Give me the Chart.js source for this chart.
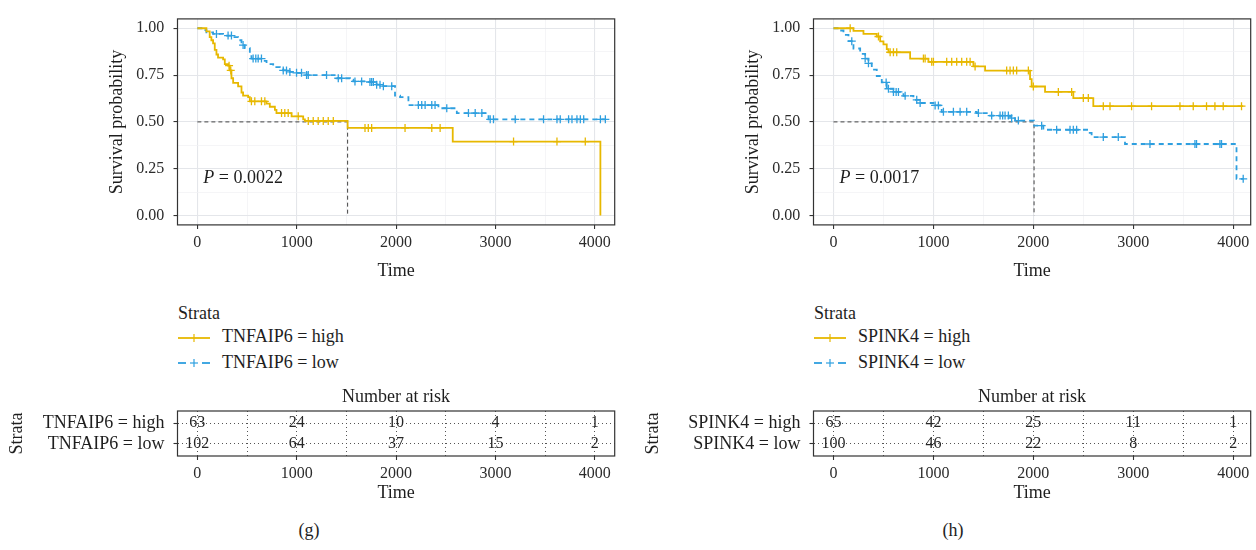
<!DOCTYPE html>
<html>
<head>
<meta charset="utf-8">
<script src="https://cdn.jsdelivr.net/npm/chart.js@4.4.1/dist/chart.umd.min.js"></script>
<style>
  body { margin: 0; background: #fff; width: 1256px; height: 550px; position: relative; overflow: hidden;
         font-family: "Liberation Serif", "Times New Roman", serif; color: #1e1e1e; }
  canvas { position: absolute; }
  .txt { position: absolute; white-space: nowrap; font-size: 18px; line-height: 20px; }
  .cap { position: absolute; width: 60px; text-align: center; font-size: 18px; line-height: 20px; }
  svg { position: absolute; }
</style>
</head>
<body>
<canvas id="kmG" width="628" height="290" style="left:0;top:0"></canvas>
<canvas id="kmH" width="620" height="290" style="left:636px;top:0"></canvas>
<canvas id="riskG" width="628" height="130" style="left:0;top:380px"></canvas>
<canvas id="riskH" width="620" height="130" style="left:636px;top:380px"></canvas>

<!-- legends -->
<div class="txt" style="left:178px;top:303px">Strata</div>
<svg style="left:178px;top:332px" width="32" height="12">
  <line x1="0" y1="6" x2="32" y2="6" stroke="#E7B800" stroke-width="1.8"/>
  <line x1="16" y1="2" x2="16" y2="10" stroke="#E7B800" stroke-width="1.2"/>
</svg>
<div class="txt" style="left:222px;top:326px">TNFAIP6 = high</div>
<svg style="left:178px;top:357px" width="32" height="12">
  <line x1="0" y1="6" x2="8" y2="6" stroke="#2E9FDF" stroke-width="1.8"/>
  <line x1="12" y1="6" x2="20" y2="6" stroke="#2E9FDF" stroke-width="1.2"/>
  <line x1="16" y1="2" x2="16" y2="10" stroke="#2E9FDF" stroke-width="1.2"/>
  <line x1="24" y1="6" x2="32" y2="6" stroke="#2E9FDF" stroke-width="1.8"/>
</svg>
<div class="txt" style="left:222px;top:352px">TNFAIP6 = low</div>

<div class="txt" style="left:814px;top:303px">Strata</div>
<svg style="left:814px;top:332px" width="32" height="12">
  <line x1="0" y1="6" x2="32" y2="6" stroke="#E7B800" stroke-width="1.8"/>
  <line x1="16" y1="2" x2="16" y2="10" stroke="#E7B800" stroke-width="1.2"/>
</svg>
<div class="txt" style="left:858px;top:326px">SPINK4 = high</div>
<svg style="left:814px;top:357px" width="32" height="12">
  <line x1="0" y1="6" x2="8" y2="6" stroke="#2E9FDF" stroke-width="1.8"/>
  <line x1="12" y1="6" x2="20" y2="6" stroke="#2E9FDF" stroke-width="1.2"/>
  <line x1="16" y1="2" x2="16" y2="10" stroke="#2E9FDF" stroke-width="1.2"/>
  <line x1="24" y1="6" x2="32" y2="6" stroke="#2E9FDF" stroke-width="1.8"/>
</svg>
<div class="txt" style="left:858px;top:352px">SPINK4 = low</div>

<div class="cap" style="left:279px;top:520px">(g)</div>
<div class="cap" style="left:923px;top:520px">(h)</div>

<script>
// ---- axes ----
const timeTicks = [0, 500, 1000, 1500, 2000, 2500, 3000, 3500, 4000];
const survTicks = [0, 0.125, 0.25, 0.375, 0.5, 0.625, 0.75, 0.875, 1];
const riskTimes = [0, 1000, 2000, 3000, 4000];

// ---- (g) TNFAIP6 ----
const gStrata = ["TNFAIP6 = high", "TNFAIP6 = low"];
const gHighTime = [0, 91, 124, 141, 158, 175, 192, 208, 259, 276, 309, 326, 343, 360, 410, 444, 460, 511, 528, 696,
  729, 780, 796, 948, 1065, 1082, 1512, 2570, 4056];
const gHighSurv = [1, 0.983, 0.953, 0.936, 0.919, 0.885, 0.86, 0.843, 0.834, 0.809, 0.8, 0.775, 0.733, 0.708, 0.69,
  0.657, 0.64, 0.632, 0.61, 0.598, 0.581, 0.564, 0.547, 0.53, 0.514, 0.505, 0.468, 0.395, 0];
const gHighCensor = [319, 336, 544, 578, 645, 679, 847, 880, 914, 1015, 1116, 1166, 1216, 1267, 1317, 1368, 1687,
  1720, 1754, 2090, 2359, 2443, 3182, 3619, 3904];
const gLowTime = [0, 57, 91, 158, 259, 360, 410, 444, 477, 528, 544, 662, 696, 763, 830, 864, 931, 998, 1099, 1401,
  1536, 1569, 1737, 1804, 1855, 1989, 2040, 2124, 2426, 2611, 2930, 4106];
const gLowSurv = [1, 0.99, 0.978, 0.97, 0.961, 0.953, 0.936, 0.91, 0.894, 0.868, 0.838, 0.826, 0.809, 0.792, 0.784,
  0.775, 0.767, 0.762, 0.75, 0.733, 0.725, 0.716, 0.713, 0.699, 0.691, 0.64, 0.632, 0.59, 0.573, 0.547, 0.514, 0.514];
const gLowCensor = [192, 309, 343, 460, 561, 588, 612, 645, 864, 897, 931, 998, 1048, 1099, 1116, 1300, 1418, 1452,
  1586, 1653, 1737, 1754, 1771, 1804, 1838, 1872, 1956, 2224, 2258, 2292, 2359, 2392, 2510, 2728, 2796, 2863, 2947,
  2980, 3199, 3484, 3619, 3652, 3736, 3770, 3820, 3854, 3888, 4056, 4106];
const gMedian = 1512;
const gPval = "0.0022";
const gRiskHigh = [63, 24, 10, 4, 1];
const gRiskLow = [102, 64, 37, 15, 2];

// ---- (h) SPINK4 ----
const hStrata = ["SPINK4 = high", "SPINK4 = low"];
const hHighTime = [0, 200, 300, 433, 467, 500, 533, 550, 767, 950, 1400, 1517, 1967, 1983, 2117, 2400, 2600, 4100];
const hHighSurv = [1, 0.986, 0.97, 0.956, 0.93, 0.914, 0.889, 0.872, 0.838, 0.821, 0.796, 0.774, 0.728, 0.689, 0.66,
  0.627, 0.584, 0.584];
const hHighCensor = [167, 450, 567, 600, 633, 900, 917, 983, 1000, 1133, 1183, 1233, 1283, 1333, 1367, 1417, 1733,
  1767, 1800, 1833, 1950, 2000, 2250, 2383, 2500, 2550, 2700, 2767, 2983, 3183, 3467, 3600, 3733, 3817, 3900, 4083];
const hLowTime = [0, 67, 100, 150, 200, 267, 317, 350, 383, 433, 483, 533, 600, 700, 800, 867, 1000, 1083, 1433, 1567,
  1767, 1817, 2007, 2100, 2550, 2583, 2917, 4033, 4100];
const hLowSurv = [1, 0.988, 0.965, 0.931, 0.892, 0.863, 0.838, 0.813, 0.779, 0.745, 0.711, 0.677, 0.66, 0.639, 0.618,
  0.601, 0.588, 0.554, 0.547, 0.534, 0.52, 0.507, 0.48, 0.458, 0.441, 0.419, 0.382, 0.196, 0.196];
const hLowCensor = [183, 317, 350, 527, 550, 600, 627, 650, 717, 833, 867, 1017, 1050, 1100, 1200, 1267, 1333, 1450,
  1583, 1667, 1693, 1717, 1750, 1783, 1850, 2083, 2233, 2367, 2400, 2433, 2700, 2850, 3167, 3617, 3633, 3867, 3883, 4100];
const hMedian = 2007;
const hPval = "0.0017";
const hRiskHigh = [65, 42, 25, 11, 1];
const hRiskLow = [100, 46, 22, 8, 2];

const ORANGE = "#E7B800";
const BLUE = "#2E9FDF";
const SERIF = "'Liberation Serif', 'Times New Roman', serif";

Chart.defaults.font.family = SERIF;
Chart.defaults.color = "#2b2b2b";

function stepPoints(times, surv) {
  return times.map((t, i) => ({ x: t, y: surv[i] }));
}

// survival value of the step curve at time t
function survAt(times, surv, t) {
  let s = surv[0];
  for (let i = 0; i < times.length; i++) if (times[i] <= t) s = surv[i];
  return s;
}

function censorPoints(times, surv, cens) {
  return cens.map((t) => ({ x: t, y: survAt(times, surv, t) }));
}

const isThousand = (v) => Math.abs(v / 1000 - Math.round(v / 1000)) < 1e-9;
const isQuarter = (v) => Math.abs(v * 4 - Math.round(v * 4)) < 1e-9;

const panelBorder = {
  id: "panelBorder",
  afterDraw(chart) {
    const a = chart.chartArea;
    const c = chart.ctx;
    c.save();
    c.strokeStyle = "#333";
    c.lineWidth = 1.2;
    c.strokeRect(a.left, a.top, a.right - a.left, a.bottom - a.top);
    c.restore();
  },
};

// ========== Survival curves ==========
function drawKM(id, p) {
  const pvalText = {
    id: "pvalText",
    afterDatasetsDraw(chart) {
      const c = chart.ctx;
      const x = chart.scales.x.getPixelForValue(60);
      const y = chart.scales.y.getPixelForValue(0.2);
      c.save();
      c.fillStyle = "#1e1e1e";
      c.textBaseline = "middle";
      c.font = "italic 18px " + SERIF;
      c.fillText("P", x, y);
      const w = c.measureText("P").width;
      c.font = "18px " + SERIF;
      c.fillText(" = " + p.pval, x + w, y);
      c.restore();
    },
  };

  new Chart(document.getElementById(id), {
    type: "scatter",
    data: {
      datasets: [
        { data: stepPoints(p.highT, p.highS), showLine: true, stepped: "before", borderColor: ORANGE,
          borderWidth: 1.8, pointRadius: 0, order: 2 },
        { data: censorPoints(p.highT, p.highS, p.highC), pointStyle: "cross", pointRadius: 4,
          borderColor: ORANGE, borderWidth: 1.3, order: 1 },
        { data: stepPoints(p.lowT, p.lowS), showLine: true, stepped: "before", borderColor: BLUE,
          borderWidth: 1.8, borderDash: [5, 4], pointRadius: 0, order: 2 },
        { data: censorPoints(p.lowT, p.lowS, p.lowC), pointStyle: "cross", pointRadius: 4,
          borderColor: BLUE, borderWidth: 1.3, order: 1 },
        { data: [{ x: 0, y: 0.5 }, { x: p.median, y: 0.5 }, { x: p.median, y: 0 }], showLine: true,
          borderColor: "#444", borderWidth: 1, borderDash: [4, 3], pointRadius: 0, order: 3 },
      ],
    },
    options: {
      responsive: false,
      animation: false,
      events: [],
      layout: { padding: { top: 7.4, right: p.padRight, left: 0, bottom: 0 } },
      plugins: { legend: { display: false }, tooltip: { enabled: false } },
      scales: {
        x: {
          type: "linear", min: -200, max: p.xMax,
          afterBuildTicks: (ax) => { ax.ticks = timeTicks.map((v) => ({ value: v })); },
          afterFit: (ax) => { ax.height = 65.1; },
          ticks: { autoSkip: false, maxRotation: 0, padding: 4, font: { size: 16 },
                   callback: (v) => (isThousand(v) ? String(v) : "") },
          grid: {
            color: (c) => (c.tick && isThousand(c.tick.value) ? "#E4E6EA" : "#F0F1F3"),
            lineWidth: (c) => (c.tick && isThousand(c.tick.value) ? 1.1 : 0.7),
            tickColor: (c) => (c.tick && isThousand(c.tick.value) ? "#333" : "rgba(0,0,0,0)"),
            tickLength: 4, tickWidth: 1.1,
          },
          border: { display: false },
          title: { display: true, text: "Time", font: { size: 18 }, color: "#1e1e1e",
                   padding: { top: 0, bottom: 7.8 } },
        },
        y: {
          type: "linear", min: -0.05, max: 1.05,
          afterBuildTicks: (ax) => { ax.ticks = survTicks.map((v) => ({ value: v })); },
          afterFit: (ax) => { ax.width = 177.5; },
          ticks: { autoSkip: false, padding: 9.3, font: { size: 16 },
                   callback: (v) => (isQuarter(v) ? v.toFixed(2) : "") },
          grid: {
            color: (c) => (c.tick && isQuarter(c.tick.value) ? "#E4E6EA" : "#F0F1F3"),
            lineWidth: (c) => (c.tick && isQuarter(c.tick.value) ? 1.1 : 0.7),
            tickColor: (c) => (c.tick && isQuarter(c.tick.value) ? "#333" : "rgba(0,0,0,0)"),
            tickLength: 4, tickWidth: 1.1,
          },
          border: { display: false },
          title: { display: true, text: "Survival probability", font: { size: 18 }, color: "#1e1e1e",
                   padding: { top: 106.3, bottom: 0 } },
        },
      },
    },
    plugins: [panelBorder, pvalText],
  });
}

// ========== Risk tables ==========
const riskRows = [1, 0]; // high on top, low below

function drawRisk(id, p) {
  const riskText = {
    id: "riskText",
    afterDatasetsDraw(chart) {
      const c = chart.ctx;
      c.save();
      c.fillStyle = "#262626";
      c.textAlign = "center";
      c.textBaseline = "middle";
      c.font = "16px " + SERIF;
      chart.data.datasets.forEach((ds, i) => {
        chart.getDatasetMeta(i).data.forEach((el, j) => {
          c.fillText(String(ds.data[j].n), el.x, el.y);
        });
      });
      const a = chart.chartArea;
      c.fillStyle = "#1e1e1e";
      c.font = "18px " + SERIF;
      c.fillText("Number at risk", (a.left + a.right) / 2, a.top - 14);
      c.restore();
    },
  };

  const rowData = (row, counts) => riskTimes.map((t, i) => ({ x: t, y: row, n: counts[i] }));

  new Chart(document.getElementById(id), {
    type: "scatter",
    data: {
      datasets: [
        { data: rowData(riskRows[0], p.high), pointRadius: 0 },
        { data: rowData(riskRows[1], p.low), pointRadius: 0 },
      ],
    },
    options: {
      responsive: false,
      animation: false,
      events: [],
      layout: { padding: { top: 31, right: p.padRight, left: 0, bottom: 0 } },
      plugins: { legend: { display: false }, tooltip: { enabled: false } },
      scales: {
        x: {
          type: "linear", min: -200, max: p.xMax,
          afterBuildTicks: (ax) => { ax.ticks = timeTicks.map((v) => ({ value: v })); },
          afterFit: (ax) => { ax.height = 54; },
          ticks: { autoSkip: false, maxRotation: 0, padding: 4, font: { size: 16 },
                   callback: (v) => (isThousand(v) ? String(v) : "") },
          grid: {
            color: "#555", lineWidth: 1,
            tickColor: (c) => (c.tick && isThousand(c.tick.value) ? "#333" : "rgba(0,0,0,0)"),
            tickLength: 4, tickWidth: 1.1,
          },
          border: { display: false, dash: [1, 3] },
          title: { display: true, text: "Time", font: { size: 18 }, color: "#1e1e1e",
                   padding: { top: 0, bottom: 5.8 } },
        },
        y: {
          type: "linear", min: -0.58, max: 1.58,
          afterBuildTicks: (ax) => { ax.ticks = riskRows.map((v) => ({ value: v })); },
          afterFit: (ax) => { ax.width = 177.5; },
          ticks: { autoSkip: false, padding: 9, font: { size: 18 }, color: "#1e1e1e",
                   callback: (v) => (v === riskRows[0] ? p.strata[0] : p.strata[1]) },
          grid: { color: "#555", lineWidth: 1, tickColor: "#333", tickLength: 4, tickWidth: 1.1 },
          border: { display: false, dash: [1, 3] },
          title: { display: true, text: "Strata", font: { size: 18 }, color: "#1e1e1e",
                   padding: { top: 6.5, bottom: 0 } },
        },
      },
    },
    plugins: [panelBorder, riskText],
  });
}

drawKM("kmG", {
  highT: gHighTime, highS: gHighSurv, highC: gHighCensor,
  lowT: gLowTime, lowS: gLowSurv, lowC: gLowCensor,
  median: gMedian, pval: gPval, xMax: 4200, padRight: 13.3,
});
drawKM("kmH", {
  highT: hHighTime, highS: hHighSurv, highC: hHighCensor,
  lowT: hLowTime, lowS: hLowSurv, lowC: hLowCensor,
  median: hMedian, pval: hPval, xMax: 4175, padRight: 5.3,
});
drawRisk("riskG", { high: gRiskHigh, low: gRiskLow, strata: gStrata, xMax: 4200, padRight: 13.3 });
drawRisk("riskH", { high: hRiskHigh, low: hRiskLow, strata: hStrata, xMax: 4175, padRight: 5.3 });
</script>
</body>
</html>
